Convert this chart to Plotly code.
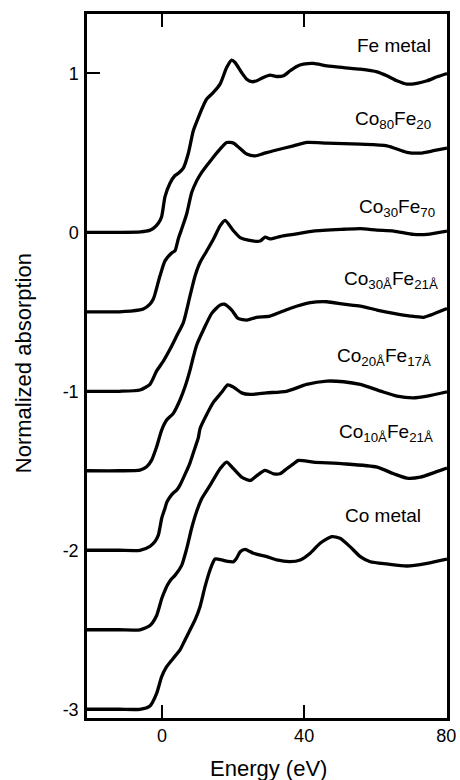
import plotly.graph_objects as go

# ---- data (energy in eV, normalized absorption before vertical offset) ----
names = ["Fe metal", "Co<sub>80</sub>Fe<sub>20</sub>", "Co<sub>30</sub>Fe<sub>70</sub>",
         "Co<sub>30Å</sub>Fe<sub>21Å</sub>", "Co<sub>20Å</sub>Fe<sub>17Å</sub>",
         "Co<sub>10Å</sub>Fe<sub>21Å</sub>", "Co metal"]
offsets = [0.0, -0.5, -1.0, -1.5, -2.0, -2.5, -3.0]

e_fe = [-21.2, -12, -6, -3.5, -2.44, -1.03, -0.1, 0.85, 2.25, 3.66, 4.6, 6.0, 7.42, 8.83, 10.2, 11.5,
        12.58, 14.46, 16.34, 18.2, 19.6, 20.56, 22.4, 23.85, 25.3, 26.7, 28.5, 30.4, 32.3, 34.2, 36.06,
        37.9, 39.8, 42.6, 46.4, 51.1, 55.8, 60.5, 63.3, 66.1, 68.9, 71.7, 74.6, 77.4, 80.2]
mu_fe = [0, 0, 0.003, 0.012, 0.025, 0.057, 0.098, 0.224, 0.308, 0.357, 0.371, 0.403, 0.497, 0.64, 0.72, 0.79,
         0.838, 0.88, 0.932, 1.036, 1.083, 1.068, 1.005, 0.963, 0.947, 0.953, 0.974, 0.989, 0.98, 0.985, 1.016,
         1.043, 1.057, 1.062, 1.047, 1.036, 1.026, 1.009, 0.984, 0.953, 0.932, 0.937, 0.953, 0.978, 0.999]

e_co80 = [-21.2, -12, -6.2, -5.26, -3.38, -2.44, -1.97, -0.56, 0.85, 2.72, 3.66, 4.6, 6.0, 7.0, 8.36, 9.8,
          11.17, 14.0, 16.34, 18.2, 20.1, 21.97, 23.85, 26.2, 28.5, 31.4, 37.0, 40.8, 46.4, 55.8, 63.3,
          68.9, 72.7, 76.4, 80.2]
mu_co80 = [0, 0, 0.012, 0.017, 0.048, 0.08, 0.111, 0.226, 0.32, 0.37, 0.384, 0.46, 0.55, 0.62, 0.75, 0.825,
           0.877, 0.96, 1.023, 1.065, 1.061, 1.027, 0.992, 0.981, 0.995, 1.013, 1.044, 1.065, 1.061, 1.054, 1.044,
           1.003, 0.998, 1.013, 1.03]

e_co30 = [-21.2, -12, -6.2, -3.38, -1.5, 0.38, 2.25, 4.13, 6.01, 7.89, 9.3, 10.7, 12.58, 14.46, 16.34,
          17.75, 20.09, 21.97, 24.3, 27.6, 29.0, 30.4, 33.2, 37.0, 42.6, 51.1, 55.8, 60.5, 65.2, 70.8,
          74.6, 80.2]
mu_co30 = [0, 0, 0.008, 0.044, 0.128, 0.19, 0.264, 0.348, 0.432, 0.6, 0.725, 0.81, 0.882, 0.956, 1.04,
           1.075, 1.01, 0.967, 0.95, 0.945, 0.97, 0.958, 0.973, 0.987, 1.008, 1.019, 1.023, 1.014, 1.008, 0.987,
           0.987, 1.008]

e_ml30 = [-21.2, -12, -6.2, -4.32, -2.91, -1.5, -0.09, 1.31, 3.19, 5.07, 6.48, 7.89, 8.83, 9.77, 11.64,
          13.99, 16.34, 17.5, 19.62, 21.4, 23.9, 26.6, 30.4, 36.0, 41.7, 46.4, 51.1, 55.8, 60.5, 65.2,
          69.9, 73.6, 75.5, 80.2]
mu_ml30 = [0, 0, 0.004, 0.025, 0.067, 0.151, 0.256, 0.319, 0.361, 0.445, 0.528, 0.633, 0.717, 0.791, 0.885,
           0.99, 1.042, 1.048, 1.011, 0.958, 0.948, 0.965, 0.973, 1.021, 1.057, 1.063, 1.048, 1.036, 1.011, 0.99,
           0.973, 0.965, 0.979, 1.021]

e_ml20 = [-21.2, -12, -6.2, -3.38, -1.97, -1.03, -0.56, -0.09, 0.85, 1.31, 2.25, 3.19, 4.13, 5.07, 6.48,
          7.89, 9.3, 10.23, 10.7, 12.58, 14.46, 16.81, 18.5, 20.1, 22.4, 24.8, 29.4, 35.0, 40.7, 46.4, 51.1,
          55.8, 61.5, 66.1, 70.8, 74.6, 80.2]
mu_ml20 = [0, 0, 0, 0.025, 0.055, 0.095, 0.145, 0.2, 0.265, 0.3, 0.335, 0.36, 0.378, 0.41, 0.477,
           0.55, 0.645, 0.708, 0.765, 0.854, 0.93, 0.994, 1.04, 1.026, 0.99, 0.98, 0.99, 1.0, 1.043, 1.064, 1.06,
           1.043, 1.001, 0.97, 0.959, 0.97, 0.997]

e_ml10 = [-21.2, -12, -6.2, -3.38, -1.5, -0.09, 0.6, 1.5, 2.5, 3.66, 5.54, 6.95, 8.36, 9.77, 11.17, 13.52,
          16.34, 18.2, 20.1, 22.4, 24.8, 26.7, 29.0, 31.4, 33.2, 35.1, 37.0, 38.4, 42.6, 51.1, 60.5, 65.2,
          68.9, 72.7, 76.4, 80.2]
mu_ml10 = [0, 0, 0, 0.027, 0.09, 0.195, 0.235, 0.28, 0.315, 0.342, 0.405, 0.51, 0.64, 0.745, 0.824, 0.908,
           1.013, 1.055, 1.013, 0.96, 0.939, 0.97, 1.002, 0.981, 0.981, 1.013, 1.044, 1.065, 1.055, 1.044, 1.023,
           0.981, 0.954, 0.96, 0.987, 1.017]

e_co = [-21.2, -12, -6.2, -3.38, -1.5, -0.09, 1.31, 3.19, 5.07, 6.48, 7.89, 9.3, 10.7, 12.11, 13.52, 14.93,
        16.81, 18.5, 20.1, 21.0, 22.0, 23.4, 25.7, 29.5, 32.3, 36.0, 38.9, 41.7, 44.5, 47.8, 50.1, 52.9,
        55.8, 58.6, 63.3, 68.9, 74.6, 80.2]
mu_co = [0, 0, 0, 0.021, 0.1, 0.205, 0.268, 0.321, 0.373, 0.436, 0.499, 0.562, 0.645, 0.771, 0.876, 0.945,
         0.939, 0.93, 0.928, 0.95, 0.991, 1.006, 0.981, 0.96, 0.939, 0.928, 0.939, 0.981, 1.044, 1.086, 1.075,
         1.023, 0.96, 0.928, 0.914, 0.901, 0.918, 0.945]

energies = [e_fe, e_co80, e_co30, e_ml30, e_ml20, e_ml10, e_co]
spectra = [mu_fe, mu_co80, mu_co30, mu_ml30, mu_ml20, mu_ml10, mu_co]

# label anchor positions (right edge energy, absorption value)
label_e = [76.3, 76.3, 77.5, 78.3, 76.3, 76.9, 73.5]
label_y = [1.178, 0.706, 0.153, -0.30, -0.786, -1.264, -1.784]

x_ticks = [0, 40, 80]
y_ticks = [1, 0, -1, -2, -3]

FONT = "Liberation Sans, Arial, Helvetica, sans-serif"

fig = go.Figure()
for e, mu, off in zip(energies, spectra, offsets):
    fig.add_trace(go.Scatter(x=e, y=[m + off for m in mu], mode="lines",
                             line=dict(color="black", width=3.3, shape="spline", smoothing=0.6),
                             showlegend=False, hoverinfo="skip"))

for name, le, ly in zip(names, label_e, label_y):
    fig.add_annotation(x=le, y=ly, xref="x", yref="y", text=name, showarrow=False,
                       xanchor="right", yanchor="middle",
                       font=dict(family=FONT, size=19, color="black"))

fig.add_annotation(x=0.503, y=0, xref="paper", yref="paper", text="Energy (eV)", showarrow=False,
                   xanchor="center", yanchor="middle", yshift=-50,
                   font=dict(family=FONT, size=22, color="black"))
fig.add_annotation(x=0, y=0.504, xref="paper", yref="paper", text="Normalized absorption", showarrow=False,
                   xanchor="center", yanchor="middle", xshift=-64, textangle=-90,
                   font=dict(family=FONT, size=22, color="black"))

fig.update_xaxes(range=[-21.1, 80.2], tickvals=x_ticks, ticktext=[str(v) for v in x_ticks],
                 ticks="inside", ticklen=13, tickwidth=2, tickcolor="black",
                 showline=True, linewidth=2.5, linecolor="black", mirror="ticks",
                 showgrid=False, zeroline=False, automargin=False,
                 tickfont=dict(family=FONT, size=18, color="black"))
fig.update_yaxes(range=[-3.055, 1.373], tickvals=y_ticks, ticktext=[str(v) for v in y_ticks],
                 ticks="inside", ticklen=13, tickwidth=2, tickcolor="black",
                 showline=True, linewidth=2.5, linecolor="black", mirror=True,
                 showgrid=False, zeroline=False, automargin=False, ticklabelstandoff=2,
                 tickfont=dict(family=FONT, size=18, color="black"))

fig.update_layout(width=460, height=780, margin=dict(l=87, r=13, t=14, b=62),
                  paper_bgcolor="white", plot_bgcolor="white")

fig.write_html("out.html")
